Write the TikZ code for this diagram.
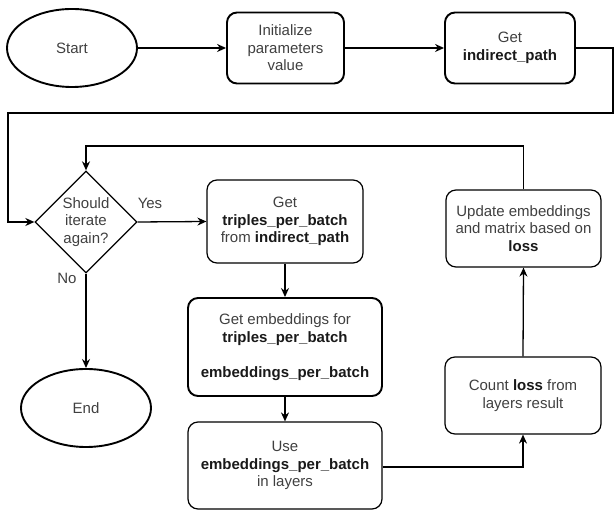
\documentclass[tikz,border=0pt]{standalone}
\usepackage{fontspec}
\setmainfont{Liberation Sans}
\usetikzlibrary{shapes.geometric,arrows.meta}
\definecolor{txt}{gray}{0.25}
\tikzset{
  base/.style={align=center,text=txt,font=\fontsize{15}{17.5}\selectfont,inner sep=0pt},
  thickbox/.style={base,draw,line width=1.9pt,rounded corners=10pt,rectangle},
  thinbox/.style={base,draw,line width=1.2pt,rounded corners=10pt,rectangle},
  oval/.style={base,draw,line width=1.9pt,ellipse},
  decision/.style={base,draw,line width=1.3pt,diamond,aspect=1},
  conn/.style={line width=1.3pt,-{Stealth[length=9pt,width=8pt]}},
  lbl/.style={text=txt,font=\fontsize{15}{17.5}\selectfont,inner sep=0pt}
}
\newcommand{\bt}[1]{\textbf{\color{black!90}#1}}
\begin{document}
\begin{tikzpicture}[x=1pt,y=1pt]
\useasboundingbox (0,0) rectangle (614,511);
\node[oval,minimum width=130pt,minimum height=78pt] (start) at (72,463) {Start};
\node[thickbox,minimum width=117pt,minimum height=71pt] (init) at (285.5,463) {Initialize\\parameters\\value};
\node[thickbox,minimum width=130pt,minimum height=71pt] (getpath) at (510,463) {Get\\\bt{indirect\_path}};
\node[decision,minimum width=102pt,minimum height=102pt] (dec) at (86,289) {};
\node[base] (dectext) at (86,289) {Should\\iterate\\again?};
\node[thinbox,minimum width=156pt,minimum height=83pt] (triples) at (285,289.5) {Get\\\bt{triples\_per\_batch}\\from \bt{indirect\_path}};
\node[thickbox,minimum width=194pt,minimum height=98pt] (emb) at (285,164) {Get embeddings for\\\bt{triples\_per\_batch}\\[17.5pt]\bt{embeddings\_per\_batch}};
\node[thinbox,minimum width=194pt,minimum height=87pt] (use) at (285,45.5) {Use\\\bt{embeddings\_per\_batch}\\in layers};
\node[thinbox,minimum width=156pt,minimum height=77pt] (count) at (523,115.5) {Count \bt{loss} from\\layers result};
\node[thinbox,minimum width=155pt,minimum height=77pt] (update) at (523.5,282.5) {Update embeddings\\and matrix based on\\\bt{loss}};
\node[oval,minimum width=130pt,minimum height=78pt] (end) at (86,103) {End};
\node[lbl] (yes) at (150,308) {Yes};
\node[lbl] (no) at (67,233) {No};

\coordinate (r1) at (613,463);
\coordinate (r2) at (613,398);
\coordinate (r3) at (8,398);
\coordinate (r4) at (8,289);
\coordinate (u1) at (523.5,365);
\coordinate (u2) at (86,365);
\coordinate (c1) at (523,44);

\draw[conn] (start.east) -- (init.west);
\draw[conn] (init.east) -- (getpath.west);
\draw[conn] (getpath.east) -- (r1) -- (r2) -- (r3) -- (r4) -- (dec.west);
\draw[conn] (dec.east) -- (triples.west);
\draw[conn] (dec.south) -- (end.north);
\draw[conn] (triples.south) -- (emb.north);
\draw[conn] (emb.south) -- (use.north);
\draw[conn] (use.east |- c1) -- (c1) -- (count.south);
\draw[conn] (count.north) -- (update.south);
\draw[conn] (update.north) -- (u1) -- (u2) -- (dec.north);
\end{tikzpicture}
\end{document}
